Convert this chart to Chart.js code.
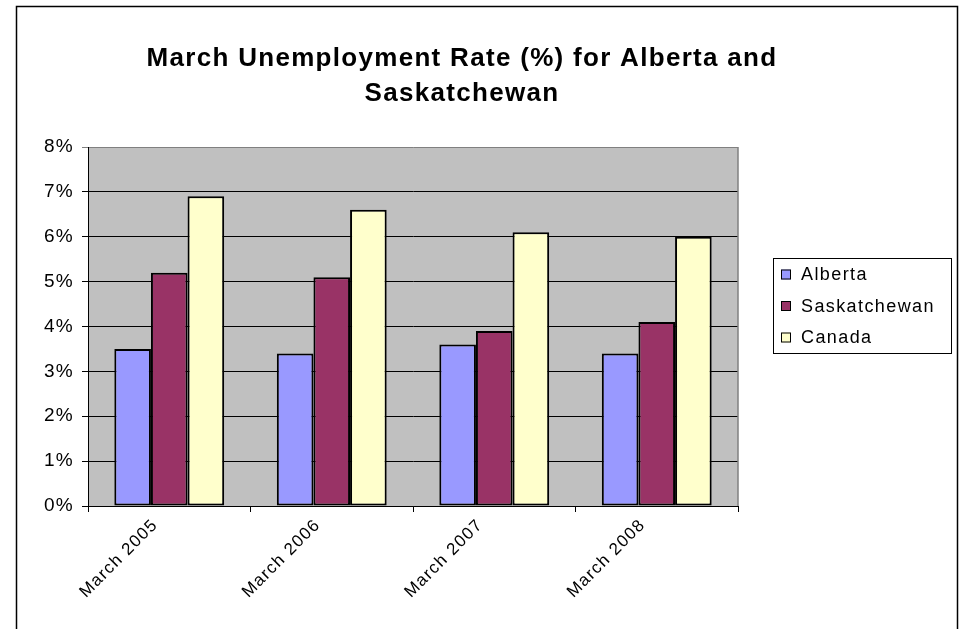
<!DOCTYPE html>
<html>
<head>
<meta charset="utf-8">
<script src="https://cdn.jsdelivr.net/npm/chart.js@4"></script>
<style>
  html, body { margin: 0; padding: 0; background: #fff; }
  #wrap { width: 962px; height: 629px; }
</style>
</head>
<body>
<div id="wrap"><canvas id="rateChart" width="962" height="629"></canvas></div>
<script>
// March unemployment rate, percent
var categories = ['March 2005', 'March 2006', 'March 2007', 'March 2008'];
var alberta = [3.5, 3.4, 3.6, 3.4];
var saskatchewan = [5.2, 5.1, 3.9, 4.1];
var canada = [6.9, 6.6, 6.1, 6.0];

var seriesNames = ['Alberta', 'Saskatchewan', 'Canada'];
var seriesColors = ['#9999FF', '#993366', '#FFFFCC'];
var titleLines = ['March Unemployment Rate (%) for Alberta and', 'Saskatchewan'];
var yMax = 8;
var yStep = 1;

var FONT = '"Liberation Sans", Arial, sans-serif';

// grey plot area, outer frame, two-line title and boxed legend
var framePlugin = {
    id: 'frame',
    beforeDraw: function (chart) {
        var ctx = chart.ctx, a = chart.chartArea;
        ctx.save();
        ctx.fillStyle = '#fff';
        ctx.fillRect(0, 0, chart.width, chart.height);
        ctx.fillStyle = '#C0C0C0';
        ctx.fillRect(a.left, a.top, a.right - a.left, a.bottom - a.top);
        ctx.restore();
        // slightly wide text spacing for the axis labels
        ctx.letterSpacing = '1.3px';
    },
    afterDraw: function (chart) {
        var ctx = chart.ctx, a = chart.chartArea;
        ctx.save();

        // right edge of the plot area
        ctx.strokeStyle = '#808080';
        ctx.lineWidth = 1.5;
        ctx.beginPath();
        ctx.moveTo(a.right, a.top);
        ctx.lineTo(a.right, a.bottom);
        ctx.stroke();

        // outer frame (runs off the bottom)
        ctx.strokeStyle = '#000';
        ctx.lineWidth = 1.5;
        ctx.strokeRect(16.5, 6.5, 941, 700);

        // title
        ctx.fillStyle = '#000';
        ctx.font = 'bold 26px ' + FONT;
        ctx.letterSpacing = '1.3px';
        ctx.textAlign = 'center';
        ctx.textBaseline = 'alphabetic';
        ctx.fillText(titleLines[0], 462, 66);
        ctx.fillText(titleLines[1], 462, 101);

        // legend
        var lx = 773, ly = 258, lw = 178, lh = 95;
        ctx.lineWidth = 1;
        ctx.strokeStyle = '#000';
        ctx.strokeRect(lx + 0.5, ly + 0.5, lw, lh);
        ctx.font = '18px ' + FONT;
        ctx.letterSpacing = '1.4px';
        ctx.textAlign = 'left';
        ctx.textBaseline = 'middle';
        chart.data.datasets.forEach(function (ds, i) {
            var cy = 274.5 + i * 31.5;
            ctx.fillStyle = ds.backgroundColor;
            ctx.fillRect(781, cy - 5, 10, 10);
            ctx.strokeRect(781.5, cy - 4.5, 9, 9);
            ctx.fillStyle = '#000';
            ctx.fillText(ds.label, 801, cy + 1);
        });
        ctx.restore();
    }
};

var ctx = document.getElementById('rateChart').getContext('2d');

var chart = new Chart(ctx, {
    type: 'bar',
    data: {
        labels: categories,
        datasets: [alberta, saskatchewan, canada].map(function (vals, i) {
            return {
                label: seriesNames[i],
                data: vals,
                backgroundColor: seriesColors[i],
                borderColor: '#000',
                borderWidth: 2,
                borderSkipped: false,
                categoryPercentage: 0.676,
                barPercentage: 1.0
            };
        })
    },
    options: {
        responsive: false,
        animation: false,
        devicePixelRatio: 1,
        layout: {
            padding: { left: 0, right: 224, top: 147, bottom: 0 }
        },
        plugins: {
            legend: { display: false },
            title: { display: false },
            tooltip: { enabled: false }
        },
        scales: {
            x: {
                ticks: {
                    minRotation: 45,
                    maxRotation: 45,
                    color: '#000',
                    font: { family: FONT, size: 17 },
                    padding: 3,
                    labelOffset: -14
                },
                grid: {
                    offset: true,
                    drawOnChartArea: false,
                    color: '#000',
                    tickLength: 6
                },
                border: { color: '#000', width: 1 },
                afterFit: function (s) { s.height = 123; }
            },
            y: {
                min: 0,
                max: yMax,
                ticks: {
                    stepSize: yStep,
                    color: '#000',
                    font: { family: FONT, size: 19 },
                    padding: 8,
                    callback: function (v) { return v + '%'; }
                },
                grid: {
                    color: function (c) { return c.tick && c.tick.value === yMax ? '#808080' : '#000'; },
                    lineWidth: 1,
                    tickLength: 6
                },
                border: { color: '#000', width: 1 },
                afterFit: function (s) { s.width = 88; }
            }
        }
    },
    plugins: [framePlugin]
});
</script>
</body>
</html>
